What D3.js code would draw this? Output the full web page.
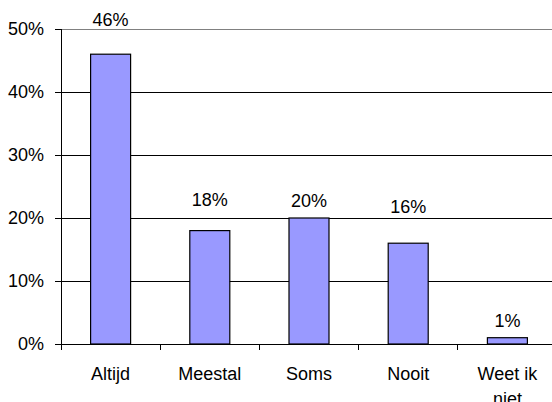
<!DOCTYPE html>
<html><head><meta charset="utf-8">
<script src="https://cdn.jsdelivr.net/npm/d3@7"></script>
<style>body{margin:0;background:#fff}svg{display:block}text{font-family:"Liberation Sans",Arial,sans-serif}</style>
</head><body>
<svg id="c" width="552" height="402"></svg>
<script>
const categories = ["Altijd", "Meestal", "Soms", "Nooit", "Weet ik niet"];
const values = [46, 18, 20, 16, 1];
const yTicks = [0, 10, 20, 30, 40, 50];

(function () {
const svg = d3.select("#c");
const mLeft = 61, mRight = 557, mTop = 29, mBottom = 344;
const fs = 18;
// vertical lift (px) of each value label above its bar, as placed in the reference
const labelLift = [28, 25, 11, 30, 11];

const x = d3.scaleBand().domain(categories).range([mLeft, mRight]).paddingInner(0).paddingOuter(0);
const y = d3.scaleLinear().domain([0, 50]).range([mBottom, mTop]);

// gridlines
svg.append("g").selectAll("line").data(yTicks.filter(d => d > 0)).join("line")
  .attr("x1", mLeft).attr("x2", 552)
  .attr("y1", d => y(d)).attr("y2", d => y(d))
  .attr("stroke", d => d === 50 ? "#808080" : "#000").attr("stroke-width", 1)
  .attr("shape-rendering", "crispEdges");

// y axis
const yAxis = d3.axisLeft(y).tickValues(yTicks).tickFormat(d => d + "%").tickSize(6).tickPadding(11);
const gy = svg.append("g").attr("transform", `translate(${mLeft},0)`).call(yAxis);
gy.selectAll("text").style("font-size", fs + "px").attr("fill", "#000").style("font-family", '"Liberation Sans",Arial,sans-serif');
gy.selectAll("line,path").attr("stroke", "#000").attr("shape-rendering", "crispEdges");

// bars
const barW = 40;
svg.append("g").selectAll("rect").data(values).join("rect")
  .attr("x", (d, i) => x(categories[i]) + x.bandwidth() / 2 - barW / 2)
  .attr("width", barW)
  .attr("y", d => y(d))
  .attr("height", d => y(0) - y(d))
  .attr("fill", "#9999FF").attr("stroke", "#000").attr("stroke-width", 1.2);

// x axis
const xAxis = d3.axisBottom(x).tickSize(0).tickFormat("");
const gx = svg.append("g").attr("transform", `translate(0,${mBottom})`).call(xAxis);
gx.selectAll("path").attr("stroke", "#000").attr("shape-rendering", "crispEdges");
const bounds = categories.map(c => x(c)).concat([x(categories[categories.length - 1]) + x.bandwidth()]);
gx.selectAll("line.b").data(bounds).join("line").attr("class", "b")
  .attr("x1", d => d).attr("x2", d => d).attr("y1", 0).attr("y2", 6)
  .attr("stroke", "#000").attr("shape-rendering", "crispEdges");

// category labels
const labs = svg.append("g").selectAll("text").data(categories).join("text")
  .attr("text-anchor", "middle").style("font-size", fs + "px").attr("fill", "#000")
  .attr("x", d => x(d) + x.bandwidth() / 2).attr("y", 380);
labs.each(function (d) {
  const t = d3.select(this);
  const parts = d === "Weet ik niet" ? ["Weet ik", "niet"] : [d];
  parts.forEach((p, i) => t.append("tspan").attr("x", x(d) + x.bandwidth() / 2).attr("dy", i ? 25 : 0).text(p));
});

// value labels
svg.append("g").selectAll("text").data(values).join("text")
  .attr("text-anchor", "middle").style("font-size", fs + "px").attr("fill", "#000")
  .attr("x", (d, i) => x(categories[i]) + x.bandwidth() / 2)
  .attr("y", (d, i) => y(d) - labelLift[i])
  .text(d => d + "%");
})();
</script>
</body></html>
